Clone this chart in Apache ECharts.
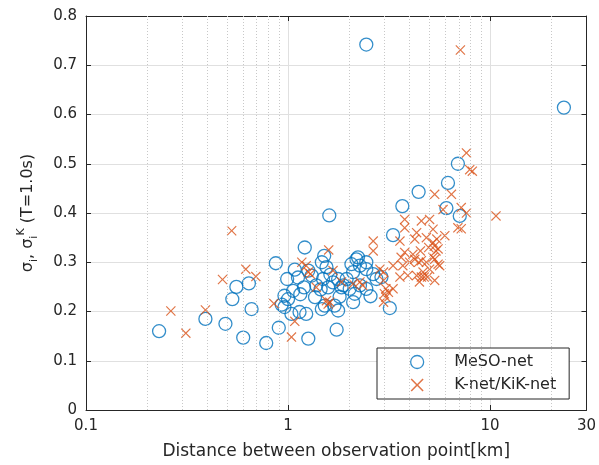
<!DOCTYPE html>
<html>
<head>
<meta charset="utf-8">
<script src="https://cdn.jsdelivr.net/npm/echarts@6/dist/echarts.min.js"></script>
<style>
  html, body { margin: 0; padding: 0; background: #fff; }
  #chart { width: 599px; height: 465px; }
</style>
</head>
<body>
<div id="chart"></div>
<script>
  // MeSO-net stations: [distance km, sigma]
  var mesoNet = [
    [0.23, 0.16], [0.39, 0.185], [0.49, 0.175], [0.53, 0.225], [0.555, 0.25],
    [0.60, 0.147], [0.64, 0.257], [0.66, 0.205], [0.78, 0.136], [0.87, 0.298],
    [0.90, 0.167], [0.99, 0.266], [1.08, 0.285], [1.12, 0.269], [1.20, 0.249],
    [1.06, 0.242], [0.96, 0.232], [0.93, 0.214], [0.96, 0.209], [1.04, 0.195],
    [1.14, 0.199], [1.23, 0.195], [1.36, 0.229], [1.38, 0.253], [1.49, 0.266],
    [1.51, 0.313], [1.55, 0.29], [1.58, 0.249], [1.67, 0.259], [1.77, 0.266],
    [1.84, 0.249], [1.47, 0.205], [1.52, 0.212], [1.70, 0.212], [1.77, 0.202],
    [1.26, 0.283], [1.31, 0.273], [1.21, 0.33], [1.60, 0.395], [1.26, 0.145],
    [1.74, 0.163], [4.43, 0.443], [3.68, 0.414], [3.31, 0.355], [3.19, 0.207],
    [2.56, 0.231], [2.18, 0.306], [2.27, 0.293], [2.44, 0.286], [2.64, 0.276],
    [2.74, 0.266], [2.10, 0.28], [1.95, 0.266], [1.88, 0.253], [2.02, 0.246],
    [2.27, 0.253], [2.14, 0.236], [2.10, 0.219], [2.44, 0.246], [1.80, 0.23],
    [2.22, 0.31], [2.44, 0.30], [2.06, 0.296], [1.47, 0.30], [6.93, 0.50],
    [6.19, 0.461], [6.08, 0.41], [7.08, 0.394], [2.44, 0.742], [23.2, 0.614],
    [1.15, 0.235], [1.45, 0.245], [1.62, 0.275], [2.9, 0.27], [1.0, 0.225]
  ];
  // K-net/KiK-net stations
  var kNet = [
    [0.263, 0.201], [0.312, 0.156], [0.39, 0.203], [0.474, 0.265], [0.526, 0.364],
    [0.618, 0.286], [0.693, 0.271], [0.851, 0.216], [1.04, 0.148], [1.08, 0.18],
    [1.17, 0.30], [1.23, 0.293], [1.59, 0.325], [1.67, 0.283], [1.38, 0.249],
    [1.55, 0.222], [1.58, 0.215], [1.29, 0.276], [1.84, 0.26], [1.26, 0.28],
    [1.61, 0.219], [2.1, 0.256], [2.27, 0.26], [2.34, 0.253], [2.85, 0.286],
    [5.32, 0.438], [5.02, 0.387], [4.57, 0.384], [3.78, 0.387], [3.78, 0.37],
    [2.64, 0.343], [2.64, 0.323], [4.24, 0.347], [4.84, 0.35], [5.22, 0.34],
    [5.4, 0.323], [4.97, 0.33], [4.52, 0.323], [4.24, 0.306], [4.0, 0.30],
    [4.57, 0.303], [4.84, 0.30], [5.32, 0.306], [5.63, 0.293], [3.63, 0.31],
    [3.7, 0.293], [3.92, 0.273], [4.33, 0.273], [4.66, 0.28], [5.02, 0.286],
    [5.32, 0.263], [4.47, 0.26], [4.72, 0.27], [3.31, 0.293], [3.58, 0.27],
    [2.97, 0.28], [2.97, 0.263], [3.05, 0.246], [3.05, 0.229], [2.97, 0.219],
    [3.0, 0.236], [3.14, 0.239], [4.57, 0.27], [4.9, 0.27], [3.31, 0.246],
    [7.64, 0.522], [7.93, 0.488], [8.17, 0.485], [6.44, 0.438], [5.85, 0.407],
    [7.2, 0.411], [7.64, 0.40], [10.7, 0.394], [6.93, 0.37], [7.2, 0.368],
    [5.97, 0.354], [5.45, 0.347], [5.22, 0.367], [5.53, 0.327], [5.22, 0.31],
    [5.53, 0.296], [7.13, 0.731], [3.58, 0.343], [3.78, 0.32], [4.15, 0.316],
    [4.43, 0.30], [4.33, 0.36], [5.32, 0.333]
  ];
  var seriesNames = ["MeSO-net", "K-net/KiK-net"];
  // minor log grid positions
  var minorX = [0.2, 0.3, 0.4, 0.5, 0.6, 0.7, 0.8, 0.9, 2, 3, 4, 5, 6, 7, 8, 9, 20];

  var axisColor = "#262626";
  var fontFam = "'DejaVu Sans', sans-serif";
  var crossPath = "path://M0,0.85L0.85,0L5,4.15L9.15,0L10,0.85L5.85,5L10,9.15L9.15,10L5,5.85L0.85,10L0,9.15L4.15,5Z";

  var mychart = echarts.init(document.getElementById("chart"));

  var baseX = {
    type: "log",
    logBase: 10,
    min: 0.1,
    max: 30,
    axisLine: { show: true, onZero: false, lineStyle: { color: axisColor, width: 1 } },
    axisTick: { show: true, inside: true, length: 5, lineStyle: { color: axisColor } },
    splitLine: { show: false }
  };
  var baseY = {
    type: "value",
    min: 0,
    max: 0.8,
    interval: 0.1,
    axisLine: { show: true, lineStyle: { color: axisColor, width: 1 } },
    axisTick: { show: true, inside: true, length: 5, lineStyle: { color: axisColor } },
    splitLine: { show: false }
  };

  var option = {
    backgroundColor: "#fff",
    animation: false,
    textStyle: { fontFamily: fontFam },
    grid: { left: 86, right: 12, top: 16, bottom: 53 },
    legend: {
      orient: "vertical",
      left: 377,
      top: 348,
      backgroundColor: "#fff",
      borderColor: axisColor,
      borderWidth: 1,
      borderRadius: 0,
      padding: [6, 13, 6, 33],
      itemGap: 7,
      itemWidth: 64,
      itemHeight: 13,
      textStyle: { color: axisColor, fontSize: 16, fontFamily: fontFam },
      data: [
        { name: seriesNames[0], icon: "circle", itemStyle: { color: "rgba(0,0,0,0)", borderColor: "#0072BD", borderWidth: 1.3 } },
        { name: seriesNames[1], icon: crossPath, itemStyle: { color: "#D95319", borderWidth: 0 } }
      ]
    },
    xAxis: [
      Object.assign({}, baseX, {
        position: "bottom",
        name: "Distance between observation point[km]",
        nameLocation: "middle",
        nameGap: 33,
        nameTextStyle: { color: axisColor, fontSize: 17 },
        axisLabel: { color: axisColor, fontSize: 15, margin: 9 },
        splitLine: { show: true, lineStyle: { color: "#e0e0e0", width: 1 } }
      }),
      Object.assign({}, baseX, { position: "top", axisLabel: { show: false } })
    ],
    yAxis: [
      Object.assign({}, baseY, {
        position: "left",
        name: "σ{sub|i}, σ{sub|i}{sup|K} (T=1.0s)",
        nameLocation: "middle",
        nameGap: 46,
        nameTextStyle: {
          color: axisColor,
          fontSize: 16,
          lineHeight: 24,
          rich: {
            sub: { fontSize: 11, lineHeight: 12, verticalAlign: "bottom", color: axisColor },
            sup: { fontSize: 11, lineHeight: 12, verticalAlign: "top", color: axisColor }
          }
        },
        axisLabel: { color: axisColor, fontSize: 15, margin: 9 },
        splitLine: { show: true, lineStyle: { color: "#e0e0e0", width: 1 } }
      }),
      Object.assign({}, baseY, { position: "right", axisLabel: { show: false } })
    ],
    series: [
      {
        name: "minor",
        type: "scatter",
        data: [],
        silent: true,
        markLine: {
          silent: true,
          symbol: "none",
          label: { show: false },
          lineStyle: { color: "#c8c8c8", type: [1, 2], width: 1 },
          data: minorX.map(function (v) { return { xAxis: v }; })
        }
      },
      {
        name: seriesNames[0],
        type: "scatter",
        data: mesoNet,
        symbol: "circle",
        symbolSize: 13,
        itemStyle: { color: "rgba(0,0,0,0)", borderColor: "#0072BD", borderWidth: 1.3 }
      },
      {
        name: seriesNames[1],
        type: "scatter",
        data: kNet,
        symbol: crossPath,
        symbolSize: 10,
        itemStyle: { color: "#D95319" }
      }
    ]
  };

  mychart.setOption(option);
</script>
</body>
</html>
